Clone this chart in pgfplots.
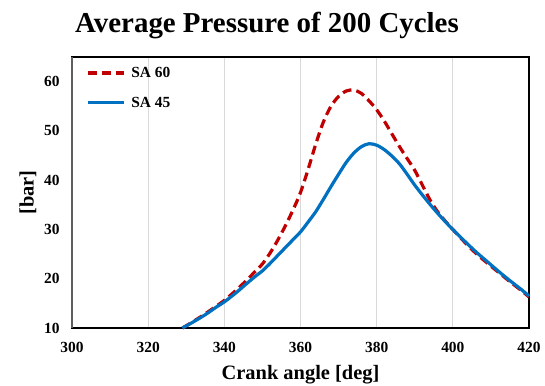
\documentclass[border=0pt]{standalone}
\usepackage{pgfplots}
\pgfplotsset{compat=1.18}
\usepackage{fontspec}
\setmainfont{Liberation Serif}
\definecolor{sared}{RGB}{192,0,0}
\definecolor{sablue}{RGB}{0,112,192}
\definecolor{gridgray}{RGB}{217,217,217}
\definecolor{leftgray}{RGB}{95,95,95}
\begin{document}
\begin{tikzpicture}
\path[use as bounding box] (-72bp,-58bp) rectangle (473bp,328bp);
\begin{axis}[
  scale only axis, width=457bp, height=271bp,
  xmin=300, xmax=420, ymin=10, ymax=65,
  xtick={300,320,...,420}, ytick={10,20,...,60},
  xmajorgrids, major grid style={gridgray, line width=1bp},
  major tick length=0pt,
  axis line style={black, line width=2.2bp},
  tick label style={font=\fontsize{15.5}{15.5}\selectfont\bfseries},
  /pgf/number format/assume math mode=true,
  /pgf/number format/1000 sep={},
  xticklabel style={yshift=-11bp},
  yticklabel style={xshift=-9bp},
  every axis x label/.style={at={(rel axis cs:0.5,0)}, yshift=-47bp, anchor=center},
  every axis y label/.style={at={(rel axis cs:0,0.5)}, xshift=-44bp, rotate=90, anchor=center},
  xlabel={Crank angle [deg]}, ylabel={[bar]},
  label style={font=\fontsize{20.5}{20.5}\selectfont\bfseries},
  clip=false,
  legend style={at={(rel axis cs:0,1)}, anchor=north west, xshift=14bp, yshift=-9bp,
    draw=none, fill=none, inner sep=0pt, row sep=16bp,
    font=\fontsize{15.5}{15.5}\selectfont\bfseries,
    nodes={inner sep=1bp, anchor=west}},
  legend cell align=left,
  legend image code/.code={\draw[#1] (0bp,0bp) -- (36bp,0bp); \path (41bp,0bp);},
]
\addplot[sared, line width=3.2bp, dash pattern=on 9bp off 5bp, smooth] coordinates {
(329,10) (332,11.4) (335,12.9) (338,14.5) (340,15.6) (343,17.6) (346,19.8) (348,21.4)
(350,23.0) (352,25.2) (354,27.8) (356,30.7) (358,33.9) (360,37.5) (362,42.2) (364,47.3)
(366,51.8) (368,55.0) (370,57.0) (372,58.1) (374,58.3) (376,57.6) (378,56.1) (380,54.3)
(382,52.0) (384,49.4) (386,46.8) (388,44.4) (390,42.0) (392,39.0) (394,36.0) (396,33.6)
(398,31.7) (400,30.0) (403,27.5) (406,25.2) (409,23.2) (412,21.3) (415,19.4) (418,17.6) (420,16.3)
};
\addlegendentry{SA 60}
\addplot[sablue, line width=3.2bp, smooth] coordinates {
(329,10) (332,11.3) (335,12.7) (338,14.3) (340,15.3) (343,17.1) (346,19.1) (348,20.4)
(350,21.6) (352,23.1) (354,24.7) (356,26.3) (358,27.9) (360,29.5) (362,31.5) (364,33.6)
(366,36.1) (368,38.7) (370,41.2) (372,43.6) (374,45.5) (376,46.8) (378,47.4) (380,47.1)
(382,46.2) (384,44.9) (386,43.3) (388,41.2) (390,39.0) (392,37.0) (394,35.1) (396,33.3)
(398,31.6) (400,30.0) (403,27.7) (406,25.5) (409,23.5) (412,21.5) (415,19.6) (418,17.8) (420,16.5)
};
\addlegendentry{SA 45}
\draw[leftgray, line width=2.6bp] (rel axis cs:0,0) -- (rel axis cs:0,1);
\end{axis}
\node[font=\fontsize{29}{29}\selectfont\bfseries, anchor=base] at (195bp,295bp) {Average Pressure of 200 Cycles};
\end{tikzpicture}
\end{document}
